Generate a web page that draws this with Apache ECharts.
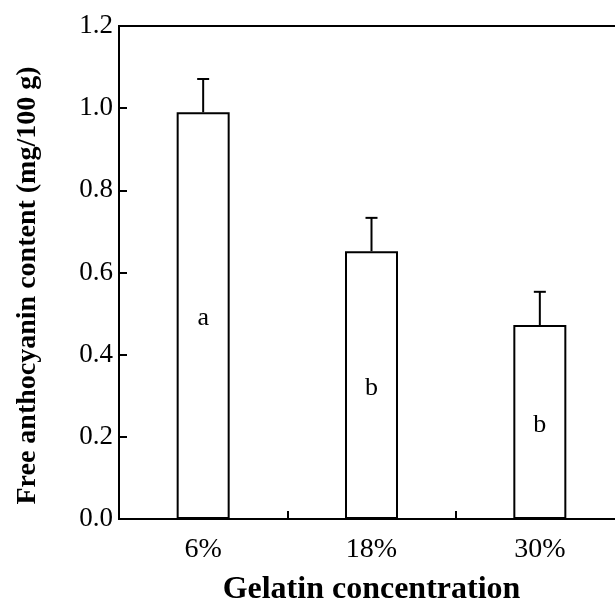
<!DOCTYPE html>
<html>
<head>
<meta charset="utf-8">
<script src="https://cdn.jsdelivr.net/npm/echarts@6/dist/echarts.min.js"></script>
<style>html,body{margin:0;padding:0;background:#fff}#c{width:615px;height:609px}</style>
</head>
<body>
<div id="c"></div>
<script>
const categories = ['6%', '18%', '30%'];
const values = [0.99, 0.652, 0.472];
const errors = [0.081, 0.081, 0.081];
const letters = ['a', 'b', 'b'];
const yTicks = [0, 0.2, 0.4, 0.6, 0.8, 1.0, 1.2];

const FONT = '"Liberation Serif", "Times New Roman", serif';
const chart = echarts.init(document.getElementById('c'), null, {renderer: 'canvas'});
chart.setOption({
  animation: false,
  grid: {left: 119, top: 26, right: -9, bottom: 90, outerBoundsMode: 'none', containLabel: false, show: true, borderColor: '#000', borderWidth: 2, backgroundColor: 'transparent'},
  xAxis: {
    type: 'category', data: categories,
    axisLine: {lineStyle: {color: '#000', width: 2}},
    axisTick: {show: true, inside: true, length: 8, alignWithLabel: false, lineStyle: {color: '#000', width: 2}},
    axisLabel: {color: '#000', fontSize: 28, fontFamily: FONT, margin: 17},
    name: 'Gelatin concentration', nameLocation: 'middle', nameGap: 55,
    nameTextStyle: {color: '#000', fontSize: 32, fontWeight: 'bold', fontFamily: FONT}
  },
  yAxis: {
    type: 'value', min: yTicks[0], max: yTicks[yTicks.length - 1], interval: 0.2,
    axisLine: {show: true, lineStyle: {color: '#000', width: 2}},
    axisTick: {show: true, inside: true, length: 8, lineStyle: {color: '#000', width: 2}},
    splitLine: {show: false},
    axisLabel: {color: '#000', fontSize: 27, fontFamily: FONT, margin: 6, formatter: v => v.toFixed(1)},
    name: 'Free anthocyanin content (mg/100 g)', nameLocation: 'middle', nameGap: 77,
    nameTextStyle: {color: '#000', fontSize: 28, fontWeight: 'bold', fontFamily: FONT, padding: [0, 26, 0, 0]}
  },
  series: [
    {
      type: 'bar', data: values, barWidth: 53,
      itemStyle: {color: '#fff', borderColor: '#000', borderWidth: 2},
      label: {show: true, position: 'inside', offset: [0, 3], formatter: p => letters[p.dataIndex], color: '#000', fontSize: 26, fontFamily: FONT}
    },
    {
      type: 'custom',
      data: values.map((v, i) => [i, v, errors[i]]),
      renderItem: function (params, api) {
        const i = api.value(0), v = api.value(1), e = api.value(2);
        const p0 = api.coord([i, v]);
        const p1 = api.coord([i, v + e]);
        const hw = 6;
        return {
          type: 'group',
          children: [
            {type: 'line', shape: {x1: p0[0], y1: p0[1], x2: p1[0], y2: p1[1]}, style: {stroke: '#000', lineWidth: 2}},
            {type: 'line', shape: {x1: p1[0] - hw, y1: p1[1], x2: p1[0] + hw, y2: p1[1]}, style: {stroke: '#000', lineWidth: 2}}
          ]
        };
      },
      z: 1
    }
  ]
});
</script>
</body>
</html>
